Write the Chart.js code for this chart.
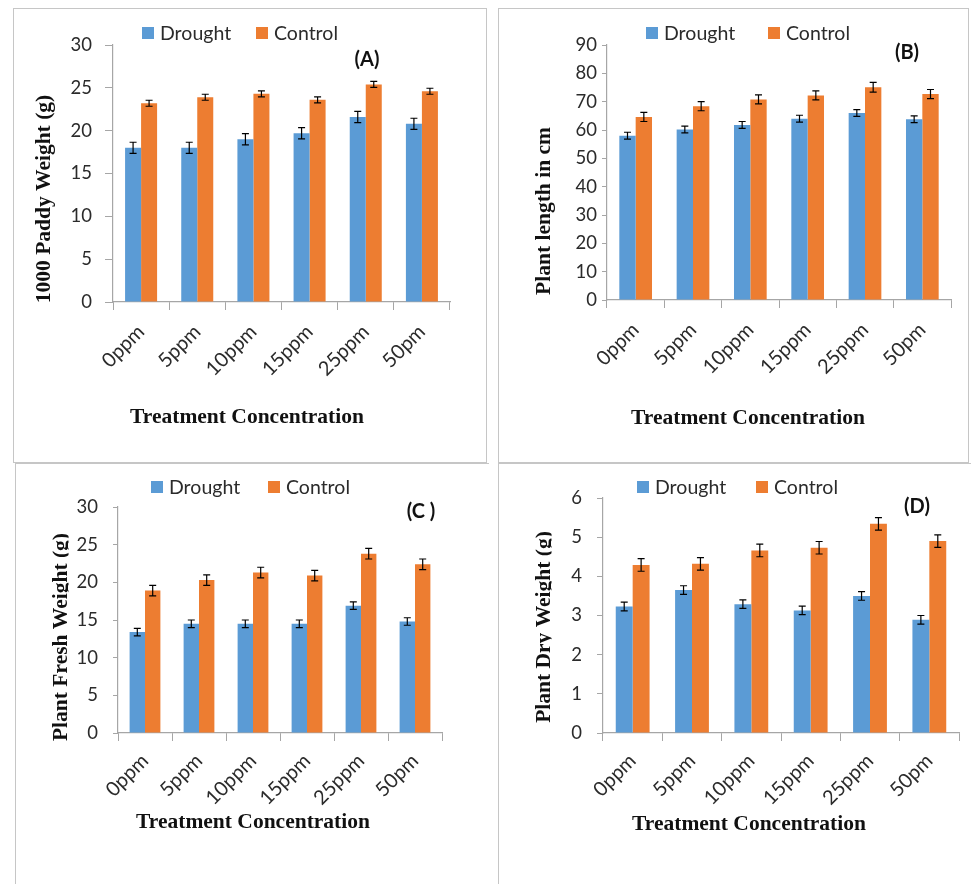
<!DOCTYPE html>
<html>
<head>
<meta charset="utf-8">
<script src="https://cdn.jsdelivr.net/npm/chart.js@4.4.1/dist/chart.umd.min.js"></script>
<style>
  body { margin: 0; background: #fff; width: 971px; height: 884px; overflow: hidden; position: relative; }
  .frame { position: absolute; box-sizing: border-box; border: 1.5px solid #c6c6c6; }
  canvas { position: absolute; }
</style>
</head>
<body>
<div class="frame" style="left:13px;top:8px;width:474px;height:455px"></div>
<div class="frame" style="left:498px;top:8px;width:471px;height:455px"></div>
<div class="frame" style="left:15px;top:463px;width:474px;height:430px;border-right:none;border-bottom:none"></div>
<div class="frame" style="left:498px;top:463px;width:480px;height:430px;border-right:none;border-bottom:none"></div>
<script>
const categories = ['0ppm', '5ppm', '10ppm', '15ppm', '25ppm', '50pm'];
const seriesNames = ['Drought', 'Control'];

// (A) 1000 paddy weight, g
const paddyDrought = [18.0, 18.0, 19.0, 19.7, 21.6, 20.8];
const paddyControl = [23.2, 23.9, 24.3, 23.6, 25.4, 24.6];
const paddyDroughtErr = [0.65, 0.65, 0.65, 0.65, 0.65, 0.65];
const paddyControlErr = [0.35, 0.35, 0.35, 0.35, 0.35, 0.35];

// (B) plant length, cm
const lengthDrought = [58.0, 60.2, 61.8, 64.0, 66.0, 63.8];
const lengthControl = [64.6, 68.4, 70.8, 72.2, 75.1, 72.7];
const lengthDroughtErr = [1.2, 1.2, 1.2, 1.2, 1.2, 1.2];
const lengthControlErr = [1.6, 1.6, 1.6, 1.6, 1.7, 1.6];

// (C) plant fresh weight, g
const freshDrought = [13.4, 14.5, 14.5, 14.5, 16.9, 14.8];
const freshControl = [18.9, 20.3, 21.3, 20.9, 23.8, 22.4];
const freshDroughtErr = [0.5, 0.5, 0.5, 0.5, 0.5, 0.5];
const freshControlErr = [0.7, 0.7, 0.7, 0.7, 0.7, 0.7];

// (D) plant dry weight, g
const dryDrought = [3.23, 3.65, 3.29, 3.13, 3.50, 2.89];
const dryControl = [4.29, 4.32, 4.66, 4.73, 5.34, 4.90];
const dryDroughtErr = [0.11, 0.11, 0.11, 0.11, 0.11, 0.11];
const dryControlErr = [0.16, 0.16, 0.16, 0.16, 0.16, 0.16];

const BLUE = '#5b9bd5';
const ORANGE = '#ed7d31';
const AXIS = '#a6a6a6';
const TEXT = '#2b2b2b';

// legend, tag letter, axis titles and error bars
const panelDecor = {
  id: 'panelDecor',
  afterDatasetsDraw(chart) {
    const ctx = chart.ctx;
    const y = chart.scales.y;
    ctx.save();
    ctx.strokeStyle = '#000';
    ctx.lineWidth = 1.2;
    chart.data.datasets.forEach((ds, i) => {
      chart.getDatasetMeta(i).data.forEach((bar, j) => {
        const v = ds.data[j], e = ds.errors[j];
        const top = y.getPixelForValue(v + e), bot = y.getPixelForValue(v - e);
        ctx.beginPath();
        ctx.moveTo(bar.x, top); ctx.lineTo(bar.x, bot);
        ctx.moveTo(bar.x - 3.5, top); ctx.lineTo(bar.x + 3.5, top);
        ctx.moveTo(bar.x - 3.5, bot); ctx.lineTo(bar.x + 3.5, bot);
        ctx.stroke();
      });
    });
    ctx.restore();
  },
  afterDraw(chart) {
    const p = chart.options.plugins.panelDecor;
    const ctx = chart.ctx;
    const ox = p.box[0], oy = p.box[1];
    ctx.save();
    // legend
    ctx.font = '19.5px Lato';
    ctx.textBaseline = 'middle';
    ctx.textAlign = 'left';
    chart.data.datasets.forEach((ds, i) => {
      const lx = p.legend[i] - ox, ly = p.legendY - oy;
      ctx.fillStyle = ds.backgroundColor;
      ctx.fillRect(lx, ly - 6, 12, 12);
      ctx.fillStyle = TEXT;
      ctx.fillText(ds.label, lx + 18, ly + 1);
    });
    // panel letter
    ctx.font = 'bold 20px Lato';
    ctx.textAlign = 'center';
    ctx.fillStyle = '#111';
    ctx.fillText(p.tag, p.tagAt[0] - ox, p.tagAt[1] - oy);
    // x title
    ctx.font = 'bold 21.5px "Liberation Serif"';
    ctx.fillText('Treatment Concentration', p.xTitleAt[0] - ox, p.xTitleAt[1] - oy);
    // y title, rotated; some panels lose the descenders at the baseline
    ctx.translate(p.yTitleAt[0] - ox, p.yTitleAt[1] - oy);
    ctx.rotate(-Math.PI / 2);
    ctx.textBaseline = 'alphabetic';
    const base = 7;
    if (p.clipTitle) {
      ctx.beginPath();
      ctx.rect(-200, -40, 400, 40 + base + 1.5);
      ctx.clip();
    }
    ctx.fillText(p.yTitle, 0, base);
    ctx.restore();
  }
};

function buildPanel(p) {
  const [bx, by, bw, bh] = p.box;
  const [left, top, right, bottom] = p.area;
  const canvas = document.createElement('canvas');
  canvas.width = bw;
  canvas.height = bh;
  canvas.style.left = bx + 'px';
  canvas.style.top = by + 'px';
  document.body.appendChild(canvas);

  new Chart(canvas, {
    type: 'bar',
    data: {
      labels: categories,
      datasets: [
        { label: seriesNames[0], data: p.drought, errors: p.droughtErr, backgroundColor: BLUE },
        { label: seriesNames[1], data: p.control, errors: p.controlErr, backgroundColor: ORANGE }
      ]
    },
    options: {
      responsive: false,
      animation: false,
      devicePixelRatio: 1,
      layout: { padding: { top: top - by, right: bx + bw - right, bottom: 0, left: 0 } },
      datasets: { bar: { categoryPercentage: 0.57, barPercentage: 1 } },
      scales: {
        x: {
          grid: { offset: true, drawOnChartArea: false, tickLength: 8, color: AXIS },
          border: { color: AXIS, width: 1.2 },
          ticks: { autoSkip: false, minRotation: 45, maxRotation: 45, padding: p.xPad, color: TEXT, font: { family: 'Lato', size: 20 } },
          afterFit: s => { s.height = by + bh - bottom; }
        },
        y: {
          min: 0, max: p.max,
          grid: { drawOnChartArea: false, tickLength: p.yTick, color: AXIS },
          border: { color: AXIS, width: 1.2 },
          ticks: { stepSize: p.step, padding: p.yPad, color: TEXT, font: { family: 'Lato', size: 18.5 } },
          afterFit: s => { s.width = left - bx; }
        }
      },
      plugins: {
        legend: { display: false },
        tooltip: { enabled: false },
        panelDecor: p
      }
    },
    plugins: [panelDecor]
  });
}

buildPanel({
  box: [14, 9, 472, 452], area: [113, 45, 450, 302],
  drought: paddyDrought, control: paddyControl, droughtErr: paddyDroughtErr, controlErr: paddyControlErr,
  max: 30, step: 5, yTick: 8, yPad: 13, xPad: 10,
  legend: [142, 256], legendY: 33, tag: '(A)', tagAt: [367, 60],
  yTitle: '1000 Paddy Weight (g)', yTitleAt: [43, 199], xTitleAt: [247, 417], clipTitle: false
});
buildPanel({
  box: [499, 9, 468, 452], area: [607, 45, 951, 300],
  drought: lengthDrought, control: lengthControl, droughtErr: lengthDroughtErr, controlErr: lengthControlErr,
  max: 90, step: 10, yTick: 5, yPad: 5, xPad: 10,
  legend: [646, 768], legendY: 33, tag: '(B)', tagAt: [907, 53],
  yTitle: 'Plant length in cm', yTitleAt: [543, 211], xTitleAt: [748, 418], clipTitle: false
});
buildPanel({
  box: [16, 464, 472, 420], area: [118, 507, 442, 733],
  drought: freshDrought, control: freshControl, droughtErr: freshDroughtErr, controlErr: freshControlErr,
  max: 30, step: 5, yTick: 5, yPad: 15, xPad: 8,
  legend: [151, 268], legendY: 487, tag: '(C )', tagAt: [421, 512],
  yTitle: 'Plant Fresh Weight (g)', yTitleAt: [60, 637], xTitleAt: [253, 822], clipTitle: true
});
buildPanel({
  box: [499, 464, 472, 420], area: [603, 498, 959, 733],
  drought: dryDrought, control: dryControl, droughtErr: dryDroughtErr, controlErr: dryControlErr,
  max: 6, step: 1, yTick: 6, yPad: 15, xPad: 8,
  legend: [637, 756], legendY: 487, tag: '(D)', tagAt: [917, 507],
  yTitle: 'Plant Dry Weight (g)', yTitleAt: [543, 627], xTitleAt: [749, 824], clipTitle: true
});
</script>
</body>
</html>
